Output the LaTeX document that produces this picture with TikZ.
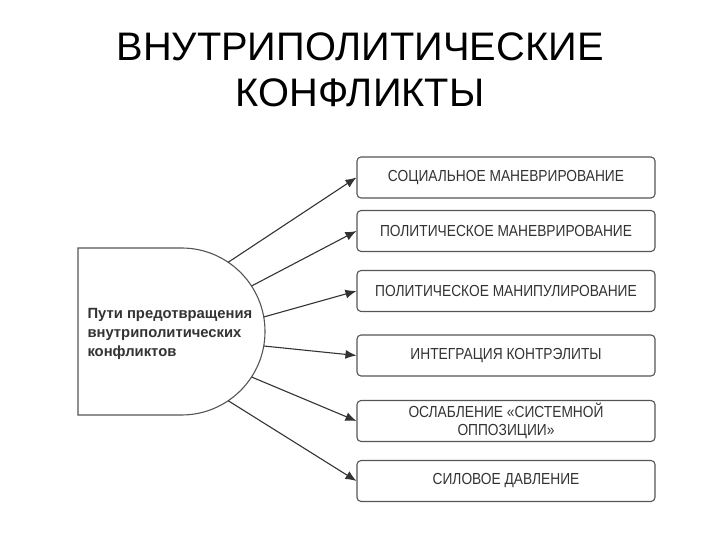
\documentclass[tikz,border=0pt]{standalone}
\usepackage{fontspec}
\setmainfont{Liberation Sans}
\newfontfamily\boxfont[FakeStretch=0.86]{Liberation Sans}
\usetikzlibrary{calc,arrows.meta}
\definecolor{ink}{HTML}{333333}
\definecolor{edge}{HTML}{555555}
\tikzset{
  waybox/.style={draw=edge, line width=1.1pt, rounded corners=4pt, minimum width=298pt,
    minimum height=41pt, inner sep=2pt, align=center, text=ink, font=\boxfont\fontsize{16}{18}\selectfont},
  wayarrow/.style={draw=ink, line width=1.1pt, -{Latex[length=11pt,width=9pt]}}
}
\begin{document}
\begin{tikzpicture}[x=1pt, y=1pt]
  \useasboundingbox (0,0) rectangle (720,540);
  \node[font=\fontsize{39.8}{46}\selectfont, align=center] (title) at (360,470)
    {ВНУТРИПОЛИТИЧЕСКИЕ\\КОНФЛИКТЫ};
  % left shape
  \coordinate (c) at (181.5,208.5);
  \draw[edge, line width=1.1pt] (181.5,292) -- (78,292) -- (78,125) -- (181.5,125)
    arc[start angle=-90, end angle=90, radius=83.5];
  \node[anchor=west, align=left, text=ink, font=\bfseries\fontsize{14.8}{19}\selectfont] (src) at (84,206)
    {Пути предотвращения\\внутриполитических\\конфликтов};
  % right boxes
  \foreach \y/\t [count=\i] in {362.5/{СОЦИАЛЬНОЕ МАНЕВРИРОВАНИЕ},
      309/{ПОЛИТИЧЕСКОЕ МАНЕВРИРОВАНИЕ},
      249/{ПОЛИТИЧЕСКОЕ МАНИПУЛИРОВАНИЕ},
      184.5/{ИНТЕГРАЦИЯ КОНТРЭЛИТЫ},
      119/{ОСЛАБЛЕНИЕ «СИСТЕМНОЙ\\ОППОЗИЦИИ»},
      59/{СИЛОВОЕ ДАВЛЕНИЕ}}
    \node[waybox] (b\i) at (506,\y) {\t};
  \foreach \a [count=\i] in {56,33,10,-10,-33,-56} \coordinate (s\i) at ($(c)+(\a:83.5)$);
  \foreach \i in {1,...,6} \draw[wayarrow] (s\i) -- (b\i.west);
\end{tikzpicture}
\end{document}
